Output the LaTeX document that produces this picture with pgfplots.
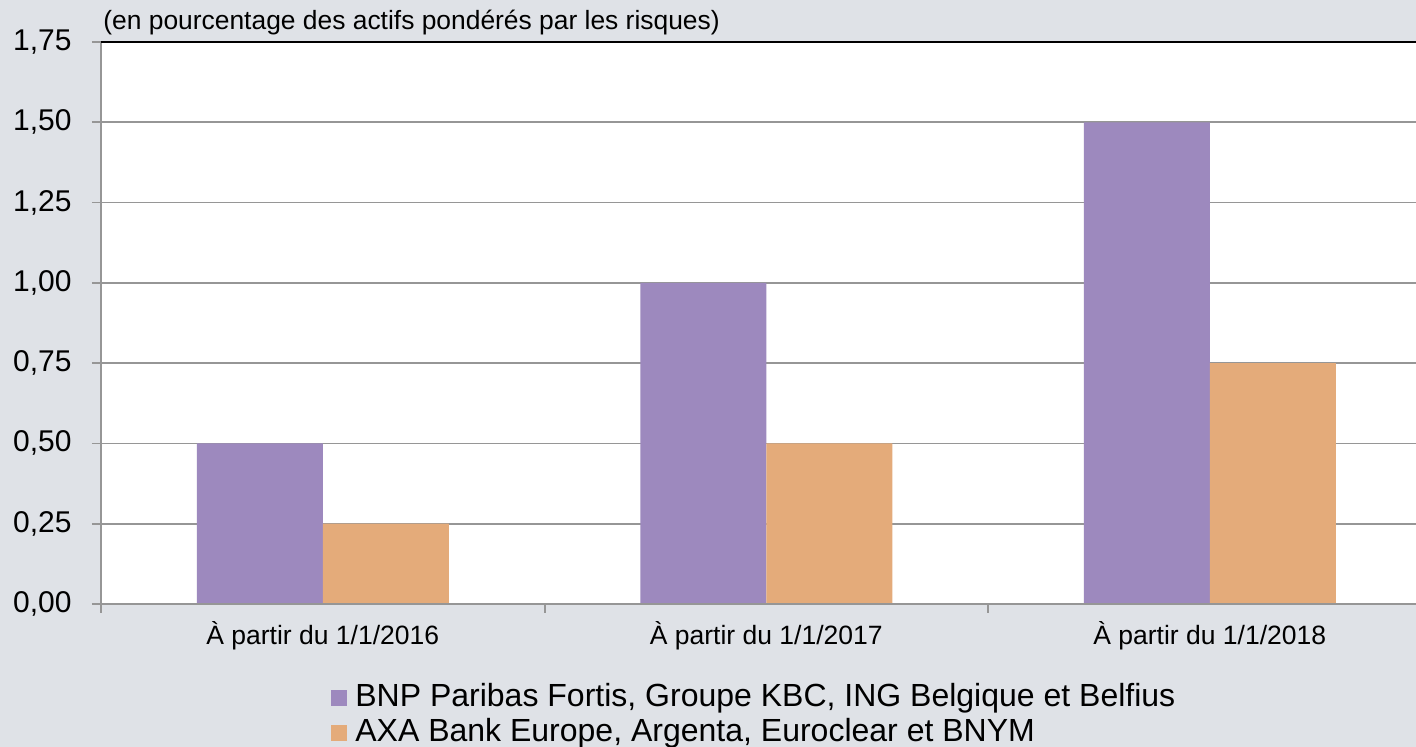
\documentclass[border=0pt]{standalone}
\usepackage{pgfplots}
\pgfplotsset{compat=1.18}
\usepackage{fontspec}
\setmainfont{Liberation Sans}
\definecolor{bgc}{HTML}{DFE2E7}
\definecolor{barA}{HTML}{9D89BE}
\definecolor{barB}{HTML}{E4AB7A}
\definecolor{gridc}{HTML}{969696}
\begin{document}
\begin{tikzpicture}
\useasboundingbox (0,0) rectangle (708bp,373.5bp);
\fill[bgc] (0,0) rectangle (708bp,373.5bp);
\begin{axis}[
  at={(50.5bp,71.5bp)}, anchor=south west,
  scale only axis, width=657.5bp, height=281bp,
  clip=false,
  ybar=0pt, bar width=63bp,
  xmin=-0.5, xmax=2.465, ymin=0, ymax=1.75,
  axis background/.style={fill=white},
  axis line style={draw=none},
  tick pos=left, tick align=outside,
  major tick length=4.5bp,
  xtick={0,1,2},
  xticklabels={À partir du 1/1/2016, À partir du 1/1/2017, À partir du 1/1/2018},
  xtick style={draw=none},
  ytick={0,0.25,0.5,0.75,1,1.25,1.5,1.75},
  ytick style={gridc, line width=0.9bp},
  ymajorgrids, major grid style={gridc, line width=0.9bp},
  /pgf/number format/.cd, fixed, fixed zerofill, precision=2, use comma, assume math mode=true,
  /pgfplots/.cd,
  yticklabel style={font=\fontsize{15bp}{18bp}\selectfont, inner sep=0pt, xshift=-10bp},
  xticklabel style={font=\fontsize{13.25bp}{16bp}\selectfont, inner sep=0pt, anchor=base, yshift=-15.5bp},
  legend image code/.code={\fill[#1] (0bp,-4bp) rectangle (8bp,4bp);},
  legend style={draw=none, fill=none, inner sep=0pt,
    at={(axis description cs:0.1749,-0.1388)}, anchor=north west,
    font=\fontsize{16bp}{19bp}\selectfont,
    nodes={inner sep=0pt, text height=12bp, text depth=3.5bp},
    row sep=2bp,
    /tikz/every odd column/.append style={column sep=4bp}},
  legend cell align=left,
]
\addplot[fill=barA, draw=none] coordinates {(0,0.5) (1,1.0) (2,1.5)};
\addlegendentry{BNP Paribas Fortis, Groupe KBC, ING Belgique et Belfius}
\addplot[fill=barB, draw=none] coordinates {(0,0.25) (1,0.5) (2,0.75)};
\addlegendentry{AXA Bank Europe, Argenta, Euroclear et BNYM}
\draw[gridc, line width=1bp] (rel axis cs:0,0) -- (rel axis cs:0,1);
\draw[gridc, line width=1.2bp] (rel axis cs:0,0) -- (rel axis cs:1,0);
\draw[black, line width=1.2bp] (rel axis cs:0,1) -- (rel axis cs:1,1);
\draw[gridc, line width=1bp] (axis cs:-0.5,0) -- ([yshift=-4.5bp]axis cs:-0.5,0);
\draw[gridc, line width=1bp] (axis cs:0.5,0) -- ([yshift=-4.5bp]axis cs:0.5,0);
\draw[gridc, line width=1bp] (axis cs:1.5,0) -- ([yshift=-4.5bp]axis cs:1.5,0);
\node[anchor=base west, inner sep=0pt, font=\fontsize{13.2bp}{15bp}\selectfont]
  at ([xshift=1bp, yshift=6bp]rel axis cs:0,1) {(en pourcentage des actifs pondérés par les risques)};
\end{axis}
\end{tikzpicture}
\end{document}
